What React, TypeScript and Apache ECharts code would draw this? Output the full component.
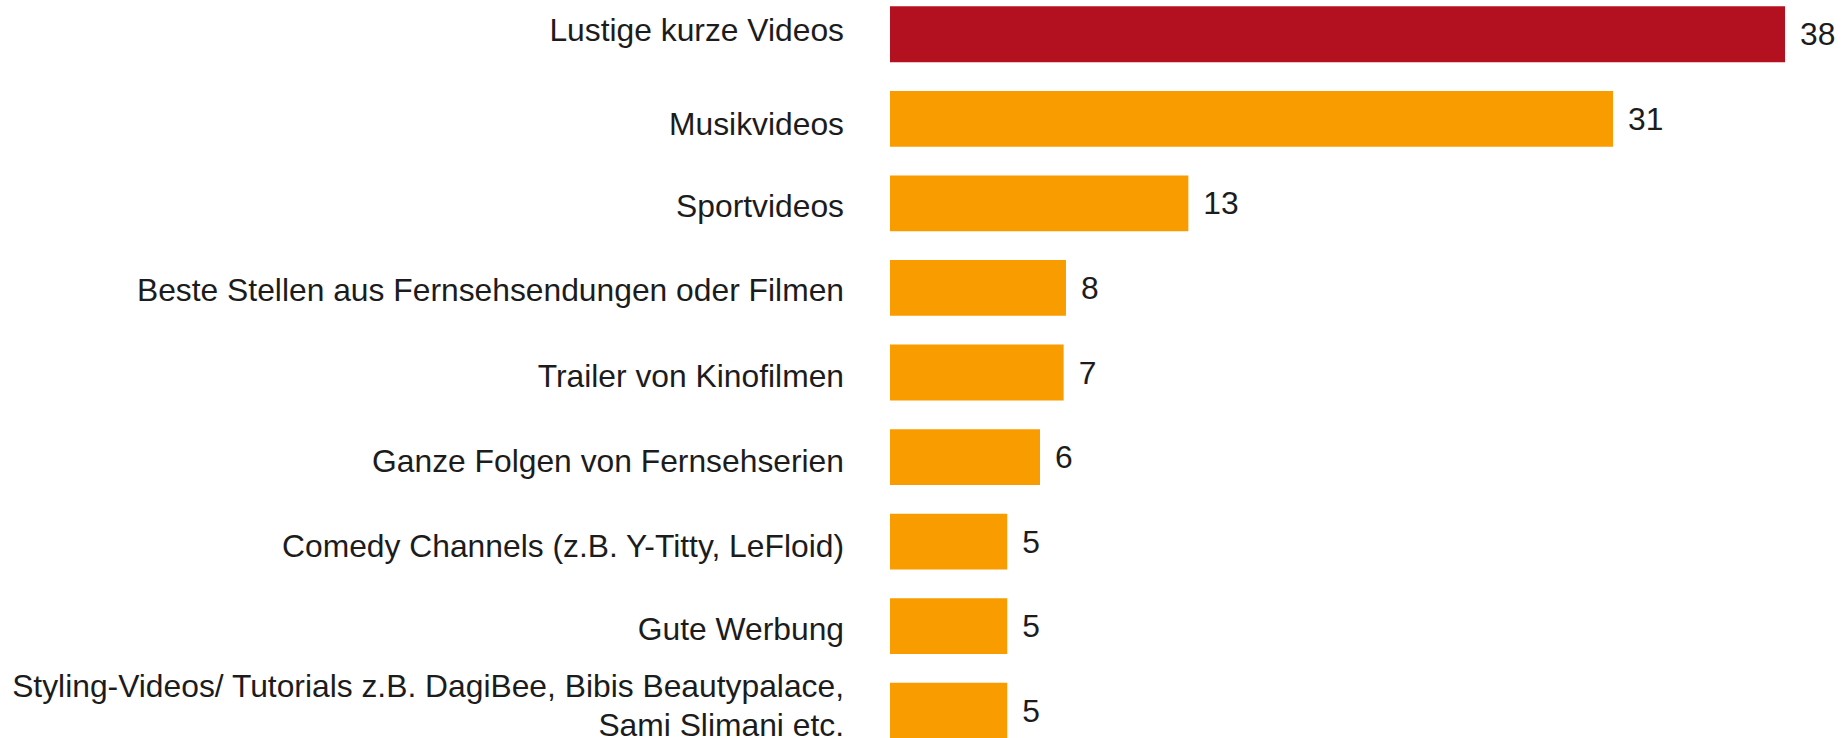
import React, { useEffect, useRef } from "react";
import * as echarts from "echarts";

const categories = [
  "Lustige kurze Videos",
  "Musikvideos",
  "Sportvideos",
  "Beste Stellen aus Fernsehsendungen oder Filmen",
  "Trailer von Kinofilmen",
  "Ganze Folgen von Fernsehserien",
  "Comedy Channels (z.B. Y-Titty, LeFloid)",
  "Gute Werbung",
  "Styling-Videos/ Tutorials z.B. DagiBee, Bibis Beautypalace,\nSami Slimani etc.",
];
const values = [38.25, 30.9, 12.75, 7.52, 7.42, 6.41, 5.01, 5.01, 5.01];
const highlightIndex = 0;

// small vertical nudges of the category labels (px, positive = down)
const labelNudges = [-4, 5, 2.5, 2.5, 3.5, 3.5, 4.5, 2.5, -5];

const RED = "#B31120";
const ORANGE = "#F99C00";
const TEXT = "#1c1c1c";
const FONT = "'Liberation Sans', Arial, sans-serif";
const FONT_SIZE = 31.8;
const LINE_HEIGHT = 38.5;

function nudgePadding(n: number) {
  return n >= 0 ? [2 * n, 0, 0, 0] : [0, 0, -2 * n, 0];
}

const richStyles: Record<string, any> = {};
labelNudges.forEach((n, i) => {
  richStyles["l" + i] = {
    color: TEXT,
    fontFamily: FONT,
    fontSize: FONT_SIZE,
    lineHeight: LINE_HEIGHT,
    align: "right",
    padding: nudgePadding(n),
  };
});

export default function App() {
  const ref = useRef<HTMLDivElement>(null);
  useEffect(() => {
    if (!ref.current) return;
    const chart = echarts.init(ref.current, undefined, { renderer: "svg" });
    chart.setOption({
      animation: false,
      backgroundColor: "#ffffff",
      grid: { left: 890, right: 19, top: 0, bottom: 0, containLabel: false },
      xAxis: {
        type: "value",
        min: 0,
        max: 40,
        show: false,
      },
      yAxis: {
        type: "category",
        data: categories,
        inverse: true,
        axisLine: { show: false },
        axisTick: { show: false },
        splitLine: { show: false },
        axisLabel: {
          margin: 46,
          color: TEXT,
          fontFamily: FONT,
          fontSize: FONT_SIZE,
          lineHeight: LINE_HEIGHT,
          align: "right",
          formatter: (value: string, index: number) => {
            const idx = categories.indexOf(value);
            const k = idx >= 0 ? idx : index;
            return value
              .split("\n")
              .map((line) => `{l${k}|${line}}`)
              .join("\n");
          },
          rich: richStyles,
        },
      },
      series: [
        {
          type: "bar",
          data: values.map((v, i) => ({
            value: v,
            itemStyle: { color: i === highlightIndex ? RED : ORANGE },
          })),
          barCategoryGap: "34%",
          label: {
            show: true,
            position: "right",
            distance: 15,
            color: TEXT,
            fontFamily: FONT,
            fontSize: FONT_SIZE,
            padding: [3, 0, 0, 0],
            formatter: (p: any) => String(Math.round(p.value)),
          },
        },
      ],
    });
    return () => chart.dispose();
  }, []);
  return (
    <div
      ref={ref}
      style={{ position: "fixed", left: 0, top: -8, width: 1845, height: 761, background: "#fff" }}
    />
  );
}
